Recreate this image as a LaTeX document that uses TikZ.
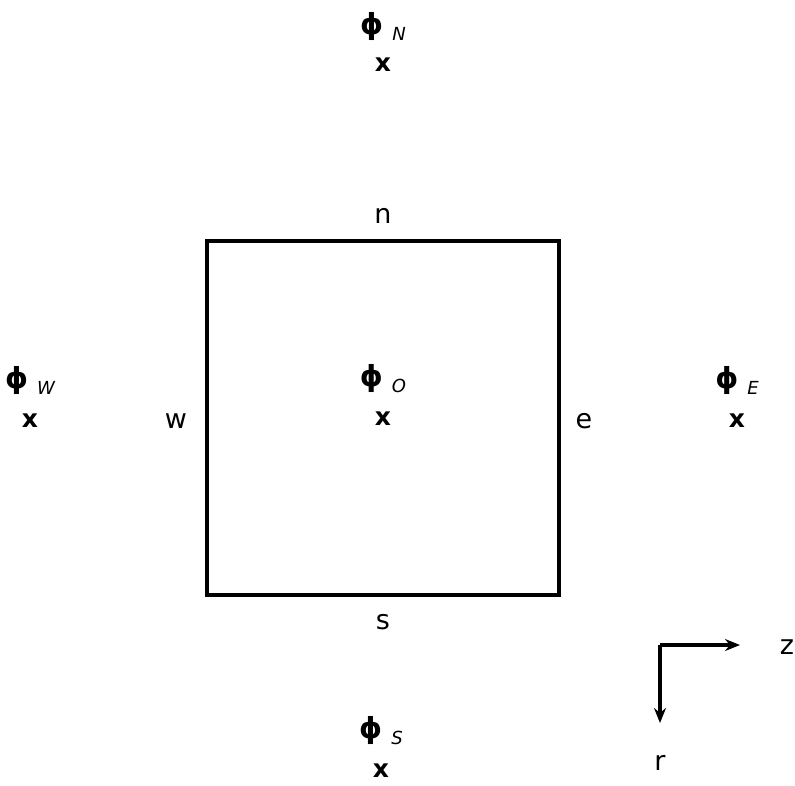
\documentclass[tikz,border=0pt]{standalone}
\usepackage{fontspec}
\setmainfont{DejaVu Sans}
\usetikzlibrary{arrows.meta,positioning}

\newcommand{\phisub}[1]{{\fontsize{29}{30}\selectfont\bfseries ϕ}\hspace{9pt}\raisebox{-6pt}{\fontsize{18}{18}\selectfont\itshape #1}}

\begin{document}
\begin{tikzpicture}[x=1pt, y=-1pt,
	lbl/.style={font=\fontsize{27}{28}\selectfont, inner sep=0pt},
	pt/.style={font=\fontsize{25}{26}\selectfont\bfseries, inner sep=0pt},
	val/.style={inner sep=0pt, anchor=base},
	axis/.style={line width=3.4pt, -{Stealth[length=15pt,width=12pt]}}]
	\useasboundingbox (0,0) rectangle (795,785);
	
	% Kontrollvolumen
	\coordinate (SW) at (207,595);
	\coordinate (NE) at (559,241);
	\draw[line width=3.4pt] (SW) rectangle (NE);
	
	% Knotenpunkte
	\node[pt] (O) at (383,419) {x};
	\node[pt] (N) at (383,65) {x};
	\node[pt] (S) at (381,771) {x};
	\node[pt] (W) at (30,421) {x};
	\node[pt] (E) at (737,421) {x};
	
	\node[val] (phiO) at ([yshift=33pt]O) {\phisub{O}};
	\node[val] (phiN) at ([yshift=31pt]N) {\phisub{N}};
	\node[val] (phiS) at ([yshift=33pt]S) {\phisub{S}};
	\node[val] (phiW) at ([yshift=33pt]W) {\phisub{W}};
	\node[val] (phiE) at ([yshift=33pt]E) {\phisub{E}};
	
	% Seitenflaechen
	\node[lbl] (n) at (383,216) {n};
	\node[lbl] (s) at (383,622) {s};
	\node[lbl] (w) at (176,421) {w};
	\node[lbl] (e) at (584,421) {e};
	
	% Koordinatenrichtungen
	\coordinate (C) at (660,645);
	\coordinate (Z) at (740,645);
	\coordinate (R) at (660,723);
	\draw[axis] (C) -- (Z);
	\draw[axis] (C) -- (R);
	\node[lbl] (z) at (787,647) {z};
	\node[lbl] (r) at (660,763) {r};
\end{tikzpicture}
\end{document}
